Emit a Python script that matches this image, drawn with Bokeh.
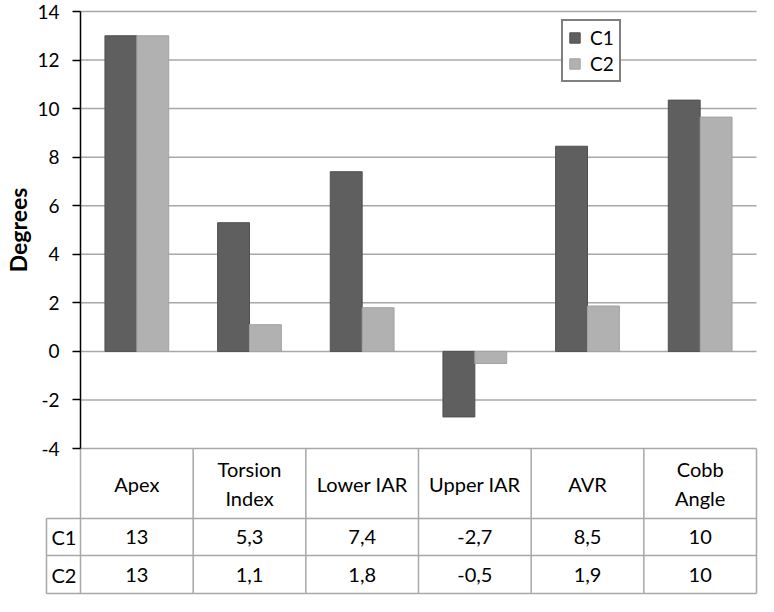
import numpy as np
from bokeh.plotting import figure
from bokeh.models import (Range1d, FixedTicker, Legend, LegendItem, ColumnDataSource,
                          LinearAxis, CustomJSTickFormatter)
from bokeh.core.properties import value
from bokeh.embed import file_html
from bokeh.resources import INLINE

# ---------------- data ----------------
categories = ["Apex", "Torsion Index", "Lower IAR", "Upper IAR", "AVR", "Cobb Angle"]
header_labels = ["Apex", "Torsion\nIndex", "Lower IAR", "Upper IAR", "AVR", "Cobb\nAngle"]
c1_values = [13.0, 5.3, 7.4, -2.7, 8.45, 10.35]
c2_values = [13.0, 1.1, 1.8, -0.5, 1.87, 9.65]
c1_table = ["13", "5,3", "7,4", "-2,7", "8,5", "10"]
c2_table = ["13", "1,1", "1,8", "-0,5", "1,9", "10"]
series_names = ["C1", "C2"]
y_ticks = [-4, -2, 0, 2, 4, 6, 8, 10, 12, 14]

# ---------------- layout / style ----------------
FONT = "Lato"
C1_COLOR = "#5f5f5f"
C2_COLOR = "#b1b1b1"
GRID = "#a8a8a8"
W, H = 758, 596
N = len(categories)
BW = 0.283

AXIS_X = 80              # px, y axis position (x = 0)
LABEL_COL_X = 46         # px, left edge of row-label column
RIGHT_X = 756            # px, x = N
PPU = (RIGHT_X - AXIS_X) / N
X0 = -AXIS_X / PPU
X1 = N + (W - RIGHT_X) / PPU
XS = -(AXIS_X - LABEL_COL_X) / PPU

TOP_PX = 11              # px from top to y = 14
BOTTOM_AXIS_PX = 448     # px from top to y = -4
PPY = (BOTTOM_AXIS_PX - TOP_PX) / 18
Y1 = 14 + TOP_PX / PPY
Y0 = Y1 - H / PPY
HEAD_B = -4 - 70 / PPY
C1_B = HEAD_B - 37 / PPY
C2_B = C1_B - 38 / PPY

p = figure(width=W, height=H, x_range=Range1d(X0, X1), y_range=Range1d(Y0, Y1),
           x_axis_location=None, y_axis_location=None, toolbar_location=None,
           output_backend="svg", min_border_left=0, min_border_right=0,
           min_border_top=0, min_border_bottom=0)
p.outline_line_color = None
p.xgrid.visible = False
p.ygrid.visible = False

# y axis at x = 0
ax = LinearAxis(fixed_location=0, ticker=FixedTicker(ticks=y_ticks), bounds=(-4, 14),
                formatter=CustomJSTickFormatter(code="return String(tick)"))
ax.major_tick_out = 8
ax.major_tick_in = 0
ax.minor_tick_out = 0
ax.minor_tick_in = 0
ax.axis_line_color = "black"
ax.axis_line_width = 1.5
ax.major_tick_line_color = "black"
ax.major_tick_line_width = 1.5
ax.major_label_text_font = FONT
ax.major_label_text_font_size = "19px"
ax.major_label_text_color = "black"
ax.major_label_standoff = 13
ax.axis_label = "Degrees"
ax.axis_label_text_font = FONT
ax.axis_label_text_font_style = "bold"
ax.axis_label_text_font_size = "23px"
ax.axis_label_text_color = "black"
ax.axis_label_standoff = 2
p.add_layout(ax, "left")

# horizontal gridlines from the tick values
p.segment(x0=[0] * len(y_ticks), x1=[N] * len(y_ticks), y0=y_ticks, y1=y_ticks,
          line_color=GRID, line_width=1.5)

idx = np.arange(N)
src = ColumnDataSource(dict(
    x1=idx + 0.5 - BW / 2, x2=idx + 0.5 + BW / 2,
    c1=c1_values, c2=c2_values,
))
r1 = p.vbar(x="x1", top="c1", bottom=0, width=BW, source=src,
            fill_color=C1_COLOR, line_color="#505050", line_width=1)
r2 = p.vbar(x="x2", top="c2", bottom=0, width=BW, source=src,
            fill_color=C2_COLOR, line_color="#a2a2a2", line_width=1)

# table grid lines
hx0, hy0, hx1, hy1 = [], [], [], []
for yy in (HEAD_B, C1_B, C2_B):
    hx0.append(XS); hx1.append(N); hy0.append(yy); hy1.append(yy)
for b in range(N + 1):
    hx0.append(b); hx1.append(b); hy0.append(C2_B); hy1.append(-4)
hx0.append(XS); hx1.append(XS); hy0.append(C2_B); hy1.append(HEAD_B)
p.segment(x0=hx0, y0=hy0, x1=hx1, y1=hy1, line_color=GRID, line_width=1.5)

centers = idx + 0.5
txt = dict(text_font=value(FONT), text_font_size="20px", text_baseline="middle",
           text_color="black")
p.text(x=centers, y=[(-4 + HEAD_B) / 2] * N, text=header_labels,
       text_align="center", text_line_height=1.18, **txt)
p.text(x=centers, y=[(HEAD_B + C1_B) / 2] * N, text=c1_table, text_align="center", **txt)
p.text(x=centers, y=[(C1_B + C2_B) / 2] * N, text=c2_table, text_align="center", **txt)
p.text(x=[XS + 5 / PPU] * 2, y=[(HEAD_B + C1_B) / 2, (C1_B + C2_B) / 2],
       text=series_names, text_align="left", **txt)

legend = Legend(items=[LegendItem(label=series_names[0], renderers=[r1]),
                       LegendItem(label=series_names[1], renderers=[r2])],
                location=(561, 514))
legend.border_line_color = "black"
legend.border_line_width = 2
legend.background_fill_color = "white"
legend.background_fill_alpha = 1
legend.label_text_font = FONT
legend.label_text_font_size = "19px"
legend.label_text_color = "black"
legend.glyph_width = 13
legend.glyph_height = 13
legend.label_height = 18
legend.spacing = 3
legend.padding = 5
legend.margin = 0
legend.label_standoff = 9
p.add_layout(legend, "center")

open("out.html", "w").write(file_html(p, INLINE))
